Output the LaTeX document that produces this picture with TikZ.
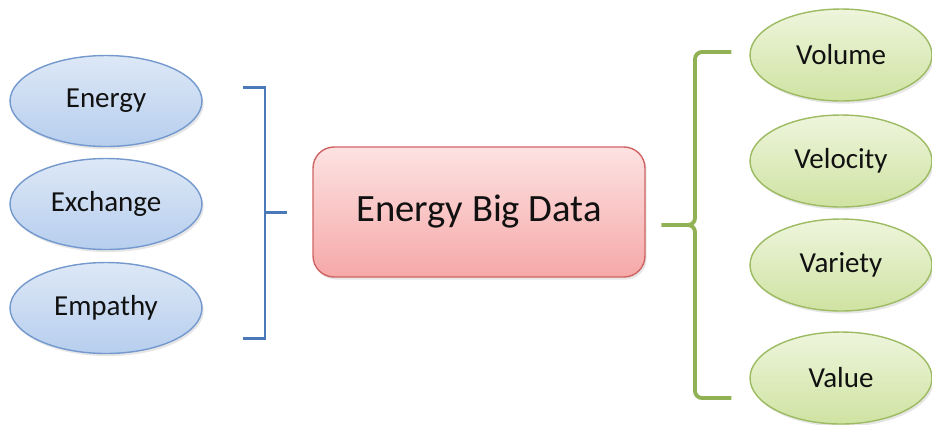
\documentclass[tikz,border=0pt]{standalone}
\usepackage{fontspec}
\setmainfont{Carlito}
\usepackage{tikz}
\usepackage{xcolor}
\usetikzlibrary{calc,positioning,shapes.geometric,shadows}
\definecolor{EllBlueTop}{HTML}{DDE8F6}
\definecolor{EllBlueBot}{HTML}{B7CEEE}
\definecolor{EllBlueLine}{HTML}{7499CE}
\definecolor{EllGreenTop}{HTML}{EEF5DC}
\definecolor{EllGreenBot}{HTML}{CFE3A2}
\definecolor{EllGreenLine}{HTML}{9DBB62}
\definecolor{CoreTop}{HTML}{FDE2E2}
\definecolor{CoreBot}{HTML}{F6A8A8}
\definecolor{CoreLine}{HTML}{D06464}
\definecolor{BraceBlue}{HTML}{4A78B8}
\definecolor{BraceGreen}{HTML}{90B154}
\definecolor{InkDark}{HTML}{111111}

\begin{document}
\begin{tikzpicture}[
      x=0.02cm,y=-0.02cm,
      text=InkDark,
      lefty/.style={ellipse,draw=EllBlueLine,line width=0.8pt,top color=EllBlueTop,bottom color=EllBlueBot,
        minimum width=3.84cm,minimum height=1.82cm,inner sep=0pt,font=\fontsize{16.5}{20}\selectfont,
        drop shadow={opacity=0.2,shadow xshift=1pt,shadow yshift=-1.5pt}},
      righty/.style={ellipse,draw=EllGreenLine,line width=0.8pt,top color=EllGreenTop,bottom color=EllGreenBot,
        minimum width=3.64cm,minimum height=1.84cm,inner sep=0pt,font=\fontsize{16.5}{20}\selectfont,
        drop shadow={opacity=0.2,shadow xshift=1pt,shadow yshift=-1.5pt}},
      core/.style={rectangle,rounded corners=0.42cm,draw=CoreLine,line width=0.8pt,top color=CoreTop,bottom color=CoreBot,
        minimum width=6.64cm,minimum height=2.6cm,font=\fontsize{22}{26}\selectfont,
        drop shadow={opacity=0.2,shadow xshift=1pt,shadow yshift=-1.5pt}},
      lbrace/.style={draw=BraceBlue,line width=1.7pt},
      rbrace/.style={draw=BraceGreen,line width=2.2pt,rounded corners=4pt}
    ]
      \useasboundingbox (0,0) rectangle (932,424);
      % left group
      \node[lefty] (energy) at (106,101) {Energy};
      \node[lefty] (exchange) at (106,204) {Exchange};
      \node[lefty] (empathy) at (106,308) {Empathy};
      % centre
      \node[core] (bigdata) at (479,212) {Energy Big Data};
      % right group
      \node[righty] (volume) at (841,55) {Volume};
      \node[righty] (velocity) at (841,161) {Velocity};
      \node[righty] (variety) at (841,265) {Variety};
      \node[righty] (value) at (841,378) {Value};
      % left bracket
      \coordinate (lb) at ($(bigdata.west)+(-25,0)$);
      \draw[lbrace] (243,87) -- (265,87) -- (265,338) -- (243,338);
      \draw[lbrace] (265,212) -- (lb);
      % right brace
      \coordinate (rb) at ($(bigdata.east)+(16,13)$);
      \draw[rbrace] ($(volume.west)+(-18,-3)$) -- (695,52) -- (695,225) -- (rb);
      \draw[rbrace] ($(value.west)+(-18,20)$) -- (695,398) -- (695,225) -- (rb);
    \end{tikzpicture}
\end{document}
